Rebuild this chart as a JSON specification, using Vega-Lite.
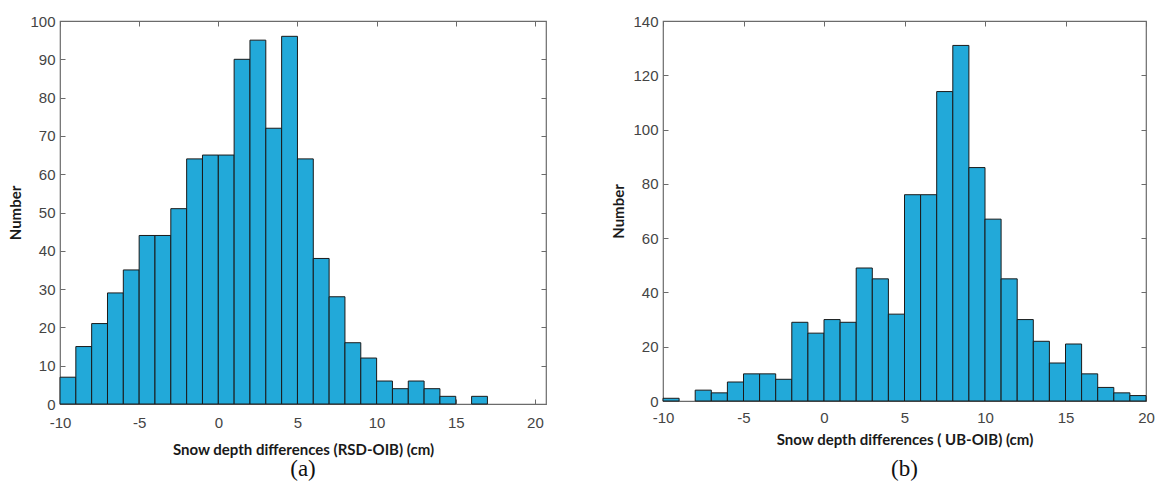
{
  "$schema": "https://vega.github.io/schema/vega-lite/v6.json",
  "padding": {"left": 8, "top": 13, "right": 3, "bottom": 5},
  "background": "white",
  "config": {
    "view": {"stroke": "#6b6b6b", "strokeWidth": 1.2},
    "axis": {
      "labelFont": "Liberation Sans", "labelFontSize": 15, "labelColor": "#444444",
      "titleFont": "Lato", "titleFontSize": 15, "titleFontWeight": "bold", "titleColor": "#1a1a1a",
      "domain": false, "grid": false, "tickColor": "#6b6b6b", "tickSize": -5, "tickWidth": 1,
      "labelFlush": false,
      "labelExpr": "'' + datum.value"
    },
    "title": {"font": "Liberation Serif", "fontSize": 23, "fontWeight": "normal", "color": "#111111"}
  },
  "datasets": {
    "a": [
      {"x0": -10, "x1": -9, "n": 7}, {"x0": -9, "x1": -8, "n": 15}, {"x0": -8, "x1": -7, "n": 21},
      {"x0": -7, "x1": -6, "n": 29}, {"x0": -6, "x1": -5, "n": 35}, {"x0": -5, "x1": -4, "n": 44},
      {"x0": -4, "x1": -3, "n": 44}, {"x0": -3, "x1": -2, "n": 51}, {"x0": -2, "x1": -1, "n": 64},
      {"x0": -1, "x1": 0, "n": 65}, {"x0": 0, "x1": 1, "n": 65}, {"x0": 1, "x1": 2, "n": 90},
      {"x0": 2, "x1": 3, "n": 95}, {"x0": 3, "x1": 4, "n": 72}, {"x0": 4, "x1": 5, "n": 96},
      {"x0": 5, "x1": 6, "n": 64}, {"x0": 6, "x1": 7, "n": 38}, {"x0": 7, "x1": 8, "n": 28},
      {"x0": 8, "x1": 9, "n": 16}, {"x0": 9, "x1": 10, "n": 12}, {"x0": 10, "x1": 11, "n": 6},
      {"x0": 11, "x1": 12, "n": 4}, {"x0": 12, "x1": 13, "n": 6}, {"x0": 13, "x1": 14, "n": 4},
      {"x0": 14, "x1": 15, "n": 2}, {"x0": 16, "x1": 17, "n": 2}
    ],
    "b": [
      {"x0": -10, "x1": -9, "n": 1}, {"x0": -8, "x1": -7, "n": 4},
      {"x0": -7, "x1": -6, "n": 3}, {"x0": -6, "x1": -5, "n": 7}, {"x0": -5, "x1": -4, "n": 10},
      {"x0": -4, "x1": -3, "n": 10}, {"x0": -3, "x1": -2, "n": 8}, {"x0": -2, "x1": -1, "n": 29},
      {"x0": -1, "x1": 0, "n": 25}, {"x0": 0, "x1": 1, "n": 30}, {"x0": 1, "x1": 2, "n": 29},
      {"x0": 2, "x1": 3, "n": 49}, {"x0": 3, "x1": 4, "n": 45}, {"x0": 4, "x1": 5, "n": 32},
      {"x0": 5, "x1": 6, "n": 76}, {"x0": 6, "x1": 7, "n": 76}, {"x0": 7, "x1": 8, "n": 114},
      {"x0": 8, "x1": 9, "n": 131}, {"x0": 9, "x1": 10, "n": 86}, {"x0": 10, "x1": 11, "n": 67},
      {"x0": 11, "x1": 12, "n": 45}, {"x0": 12, "x1": 13, "n": 30}, {"x0": 13, "x1": 14, "n": 22},
      {"x0": 14, "x1": 15, "n": 14}, {"x0": 15, "x1": 16, "n": 21}, {"x0": 16, "x1": 17, "n": 10},
      {"x0": 17, "x1": 18, "n": 5}, {"x0": 18, "x1": 19, "n": 3}, {"x0": 19, "x1": 20, "n": 2}
    ]
  },
  "spacing": 63,
  "hconcat": [
    {
      "width": 486, "height": 383,
      "title": {"text": "(a)", "orient": "bottom", "offset": 1, "anchor": "middle"},
      "data": {"name": "a"},
      "resolve": {"axis": {"x": "independent", "y": "independent"}},
      "layer": [
        {
          "mark": {"type": "bar", "fill": "#22a9d9", "stroke": "#1a1a1a", "strokeWidth": 1},
          "encoding": {
            "x": {"field": "x0", "type": "quantitative", "scale": {"domain": [-10, 20.7], "nice": false},
                  "axis": {"orient": "bottom", "values": [-10, -5, 0, 5, 10, 15, 20], "title": "Snow depth differences (RSD-OIB) (cm)", "labelPadding": 16, "titlePadding": 12}},
            "x2": {"field": "x1"},
            "y": {"field": "n", "type": "quantitative", "scale": {"domain": [0, 100], "nice": false},
                  "axis": {"orient": "left", "values": [0,10,20,30,40,50,60,70,80,90,100], "title": "Number", "labelPadding": 10, "titlePadding": 6}},
            "y2": {"datum": 0}
          }
        },
        {
          "mark": {"type": "bar", "opacity": 0},
          "encoding": {
            "x": {"field": "x0", "type": "quantitative", "scale": {"domain": [-10, 20.7], "nice": false},
                  "axis": {"orient": "top", "values": [-10, -5, 0, 5, 10, 15, 20], "labels": false, "title": null}},
            "x2": {"field": "x1"},
            "y": {"field": "n", "type": "quantitative", "scale": {"domain": [0, 100], "nice": false},
                  "axis": {"orient": "right", "values": [0,10,20,30,40,50,60,70,80,90,100], "labels": false, "title": null}},
            "y2": {"datum": 0}
          }
        }
      ]
    },
    {
      "width": 483, "height": 380,
      "title": {"text": "(b)", "orient": "bottom", "offset": 11, "anchor": "middle"},
      "data": {"name": "b"},
      "resolve": {"axis": {"x": "independent", "y": "independent"}},
      "layer": [
        {
          "mark": {"type": "bar", "fill": "#22a9d9", "stroke": "#1a1a1a", "strokeWidth": 1},
          "encoding": {
            "x": {"field": "x0", "type": "quantitative", "scale": {"domain": [-10, 20], "nice": false},
                  "axis": {"orient": "bottom", "values": [-10, -5, 0, 5, 10, 15, 20], "title": "Snow depth differences ( UB-OIB) (cm)", "labelPadding": 14, "titlePadding": 7}},
            "x2": {"field": "x1"},
            "y": {"field": "n", "type": "quantitative", "scale": {"domain": [0, 140], "nice": false},
                  "axis": {"orient": "left", "values": [0,20,40,60,80,100,120,140], "title": "Number", "labelPadding": 10, "titlePadding": 6}},
            "y2": {"datum": 0}
          }
        },
        {
          "mark": {"type": "bar", "opacity": 0},
          "encoding": {
            "x": {"field": "x0", "type": "quantitative", "scale": {"domain": [-10, 20], "nice": false},
                  "axis": {"orient": "top", "values": [-10, -5, 0, 5, 10, 15, 20], "labels": false, "title": null}},
            "x2": {"field": "x1"},
            "y": {"field": "n", "type": "quantitative", "scale": {"domain": [0, 140], "nice": false},
                  "axis": {"orient": "right", "values": [0,20,40,60,80,100,120,140], "labels": false, "title": null}},
            "y2": {"datum": 0}
          }
        }
      ]
    }
  ]
}
